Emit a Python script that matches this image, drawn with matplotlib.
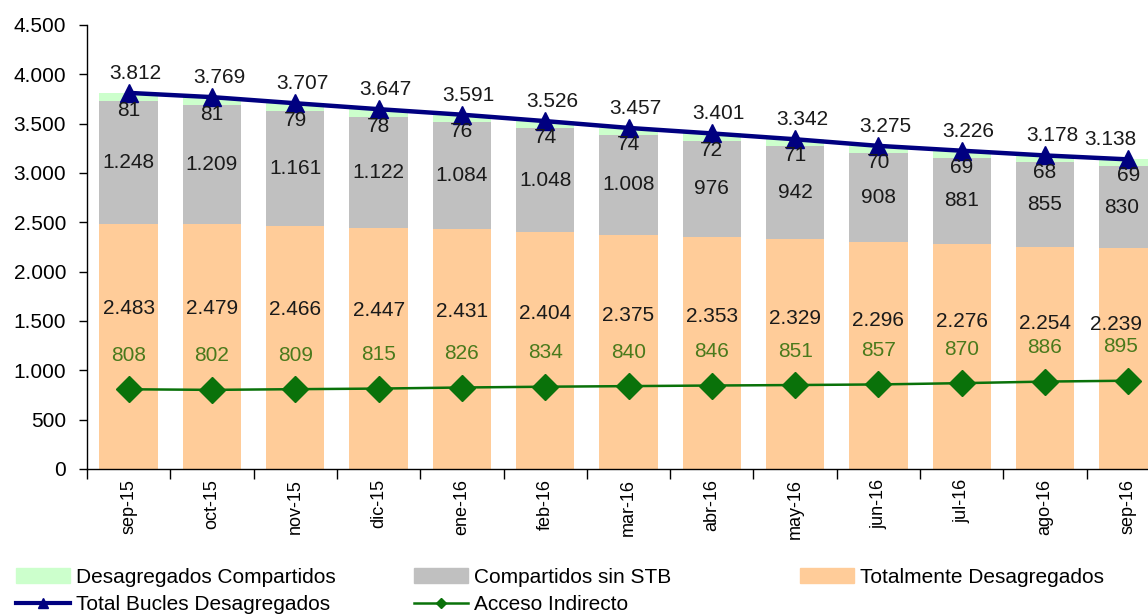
import numpy as np
import matplotlib
matplotlib.use("Agg")
import matplotlib.pyplot as plt
from matplotlib.patches import Patch
from matplotlib.lines import Line2D

plt.rcParams['font.family'] = ['Liberation Sans', 'DejaVu Sans']

# datos (miles de bucles)
meses = ["sep-15", "oct-15", "nov-15", "dic-15", "ene-16", "feb-16", "mar-16",
         "abr-16", "may-16", "jun-16", "jul-16", "ago-16", "sep-16"]
totalmente = [2483, 2479, 2466, 2447, 2431, 2404, 2375, 2353, 2329, 2296, 2276, 2254, 2239]
compartidos_sin_stb = [1248, 1209, 1161, 1122, 1084, 1048, 1008, 976, 942, 908, 881, 855, 830]
desag_compartidos = [81, 81, 79, 78, 76, 74, 74, 72, 71, 70, 69, 68, 69]
total_bucles = [3812, 3769, 3707, 3647, 3591, 3526, 3457, 3401, 3342, 3275, 3226, 3178, 3138]
acceso_indirecto = [808, 802, 809, 815, 826, 834, 840, 846, 851, 857, 870, 886, 895]

C_TOT = "#FFCC99"
C_GRIS = "#C0C0C0"
C_VERDE_CLARO = "#CCFFCC"
C_AZUL = "#000080"
C_VERDE = "#0A720A"
C_TXT_VERDE = "#4A7A1C"
FS = 15


def fmt(v):
    return f"{v:,}".replace(",", ".")


def main():
    fig = plt.figure(figsize=(11.48, 6.14), dpi=100)
    # el eje se sale por la derecha, igual que en la imagen original (recortada)
    ax = fig.add_axes([87 / 1148, 1 - 469 / 614, 1083 / 1148, 444 / 614])

    x = np.arange(len(meses))
    t = np.array(totalmente)
    c = np.array(compartidos_sin_stb)
    d = np.array(desag_compartidos)
    n = len(meses)

    ax.bar(x, t, width=0.7, color=C_TOT, zorder=1)
    ax.bar(x, c, width=0.7, bottom=t, color=C_GRIS, zorder=1)
    ax.bar(x, d, width=0.7, bottom=t + c, color=C_VERDE_CLARO, zorder=1)

    ax.plot(x, total_bucles, color=C_AZUL, lw=3.2, marker="^", ms=12.5,
            zorder=4, clip_on=False)
    ax.plot(x, acceso_indirecto, color=C_VERDE, lw=1.8, marker="D", ms=13,
            zorder=4)

    # etiquetas (la última columna queda pegada al borde: se corre a la izquierda)
    for i in range(n):
        dx_tot = -13 if i == n - 1 else 5
        dx_last = -9 if i == n - 1 else 0
        ax.annotate(fmt(totalmente[i]), (x[i], t[i] * 0.655),
                    xytext=(dx_last, 0), textcoords="offset points", ha="center",
                    va="center", fontsize=FS, color="#1a1a1a", zorder=5)
        ax.annotate(fmt(compartidos_sin_stb[i]), (x[i], t[i] + c[i] / 2),
                    xytext=(dx_last * 0.5, 0), textcoords="offset points",
                    ha="center", va="center", fontsize=FS, color="#1a1a1a", zorder=5)
        ax.annotate(fmt(desag_compartidos[i]), (x[i], t[i] + c[i] + d[i] / 2),
                    xytext=(0, -9.5), textcoords="offset points", ha="center",
                    va="center", fontsize=FS, color="#1a1a1a", zorder=5)
        ax.annotate(fmt(total_bucles[i]), (x[i], total_bucles[i]),
                    xytext=(dx_tot, 14), textcoords="offset points", ha="center",
                    va="center", fontsize=FS, color="#1a1a1a", zorder=5)
        ax.annotate(fmt(acceso_indirecto[i]), (x[i], acceso_indirecto[i]),
                    xytext=(dx_last * 0.6, 24.5), textcoords="offset points",
                    ha="center", va="center", fontsize=FS, color=C_TXT_VERDE, zorder=5)

    ax.set_xlim(-0.5, n - 0.5)
    ax.set_ylim(0, 4500)
    ax.set_yticks(np.arange(0, 4501, 500))
    ax.set_yticklabels([fmt(v) for v in range(0, 4501, 500)])
    ax.set_xticks(x)
    ax.set_xticklabels(meses, rotation=90, fontsize=13)
    ax.set_xticks(np.arange(-0.5, n, 1), minor=True)
    ax.tick_params(axis="x", which="major", length=0, pad=7)
    ax.tick_params(axis="x", which="minor", length=7, width=1, direction="out")
    ax.tick_params(axis="y", length=6, width=1, direction="out", pad=9, labelsize=FS)

    for s in ["top", "right"]:
        ax.spines[s].set_visible(False)
    ax.spines["left"].set_linewidth(1)
    ax.spines["bottom"].set_linewidth(1)

    # leyenda en tres bloques como en el original
    kw = dict(loc="upper left", frameon=False, fontsize=FS, handlelength=2.6,
              handletextpad=0.3, labelspacing=0.4, borderpad=0, borderaxespad=0)
    y_ley = 1 - 568 / 614
    h1 = [Patch(color=C_VERDE_CLARO),
          Line2D([], [], color=C_AZUL, lw=3, marker="^", ms=7)]
    fig.legend(h1, ["Desagregados Compartidos", "Total Bucles Desagregados"],
               bbox_to_anchor=(16 / 1148, y_ley), **kw)
    h2 = [Patch(color=C_GRIS),
          Line2D([], [], color=C_VERDE, lw=1.8, marker="D", ms=5)]
    fig.legend(h2, ["Compartidos sin STB", "Acceso Indirecto"],
               bbox_to_anchor=(414 / 1148, y_ley), **kw)
    h3 = [Patch(color=C_TOT)]
    fig.legend(h3, ["Totalmente Desagregados"],
               bbox_to_anchor=(800 / 1148, y_ley), **kw)

    fig.savefig("out.png", dpi=100)


if __name__ == "__main__":
    main()
